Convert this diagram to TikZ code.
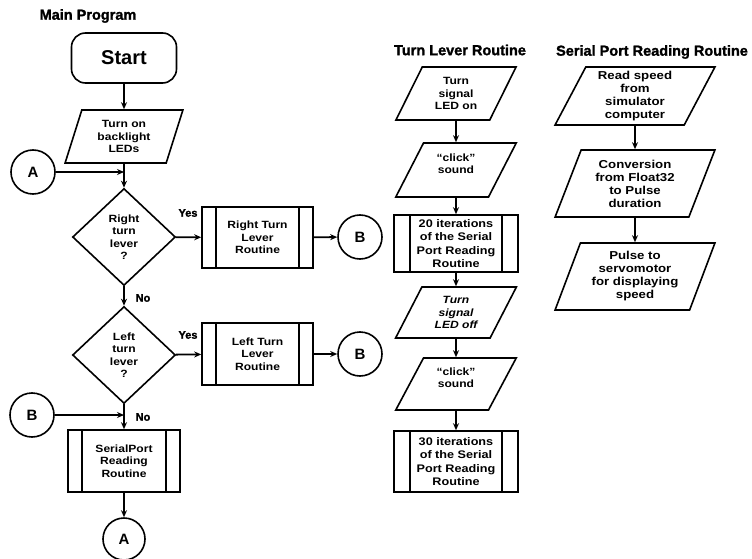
\documentclass[tikz,border=0pt]{standalone}
\usepackage{fontspec}
\setmainfont{Liberation Sans}
\newfontfamily\bodyfamily{Liberation Sans}[FakeStretch=1.15]
\newfontfamily\headfamily{Liberation Sans}[BoldFeatures={FakeBold=1.5}]
\usetikzlibrary{shapes.geometric,arrows.meta}

\newcommand\txtfont{\bodyfamily\bfseries\fontsize{10.5}{12.5}\selectfont}
\newcommand\bigtxtfont{\bodyfamily\bfseries\fontsize{11}{13.3}\selectfont}
\newcommand\sertxtfont{\bodyfamily\bfseries\fontsize{11.5}{13}\selectfont}
\newcommand\headfont{\headfamily\bfseries\fontsize{14.5}{15}\selectfont}

\tikzset{
    flow/.style={line width=1.8pt, -{Stealth[length=7pt,width=6pt]}},
    feed/.style={line width=1.2pt, -{Stealth[length=7pt,width=6pt]}},
    io/.style={trapezium, trapezium stretches=true, draw, line width=1.6pt,
        trapezium left angle=#1, trapezium right angle=180-#1,
        inner sep=0pt, align=center, font=\txtfont},
    decision/.style={diamond, draw, line width=1.6pt, minimum width=103pt,
        minimum height=97pt, inner sep=0pt, align=center, font=\txtfont},
    sub/.style={draw, line width=1.6pt, inner sep=0pt, align=center, font=\txtfont,
        path picture={
            \draw[line width=1.4pt] ([xshift=#1]path picture bounding box.north west)
                -- ([xshift=#1]path picture bounding box.south west);
            \draw[line width=1.4pt] ([xshift=-#1]path picture bounding box.north east)
                -- ([xshift=-#1]path picture bounding box.south east);
        }},
    conn/.style={circle, draw, line width=1.6pt, minimum size=44pt, inner sep=0pt,
        font=\bfseries\fontsize{15}{15}\selectfont},
    answer/.style={font=\headfamily\bfseries\fontsize{11}{11}\selectfont, inner sep=0pt}
}

\begin{document}
\begin{tikzpicture}[x=1pt,y=-1pt]
    \useasboundingbox (0,0) rectangle (752,559);

    % main program
    \node[font=\headfont] (mtitle) at (88,16) {Main Program};
    \node[draw, line width=1.6pt, rounded corners=14pt, minimum width=105pt,
        minimum height=50pt, font=\bfseries\fontsize{20}{20}\selectfont] (start) at (124,58) {Start};
    \node[io=72, minimum width=118pt, minimum height=53pt] (light) at (124,136.5) {Turn on\\backlight\\LEDs};
    \node[decision] (right) at (124,237) {Right\\turn\\lever\\?};
    \node[sub=14pt, minimum width=111pt, minimum height=61pt] (rtr) at (257.5,237.5) {Right Turn\\Lever\\Routine};
    \node[decision] (left) at (124,355) {Left\\turn\\lever\\?};
    \node[sub=14pt, minimum width=111pt, minimum height=62pt] (ltr) at (257.5,354) {Left Turn\\Lever\\Routine};
    \node[sub=14pt, minimum width=112pt, minimum height=62pt] (spr) at (124,461) {SerialPort\\Reading\\Routine};

    \node[conn] (a1) at (33,172) {A};
    \node[conn] (b1) at (360,237) {B};
    \node[conn] (b2) at (360,354) {B};
    \node[conn] (b3) at (32,415) {B};
    \node[conn, minimum size=42pt] (a2) at (124,539) {A};

    \coordinate (ja) at (124,172);
    \coordinate (jb) at (124,415);

    \node[answer] (yes1) at (188,213) {Yes};
    \node[answer] (no1) at (143,298) {No};
    \node[answer] (yes2) at (188,335) {Yes};
    \node[answer] (no2) at (143,417) {No};

    \foreach \a/\b in {start/light, light/right, right/left, left/spr, spr/a2,
        right/rtr, rtr/b1, left/ltr, ltr/b2} {
        \draw[flow] (\a) -- (\b);
    }
    \draw[feed] (a1) -- (ja);
    \draw[feed] (b3) -- (jb);

    % turn lever routine
    \node[font=\headfont] (ttitle) at (460,50) {Turn Lever Routine};
    \node[io=63, minimum width=121pt, minimum height=53pt] (t1) at (456,93.5) {Turn\\signal\\LED on};
    \node[io=63, minimum width=121pt, minimum height=54pt] (t2) at (456,170) {“click”\\sound\\\mbox{}};
    \node[sub=16pt, minimum width=124pt, minimum height=57pt, font=\bigtxtfont] (t3) at (456,243.5)
        {20 iterations\\of the Serial\\Port Reading\\Routine};
    \node[io=63, minimum width=121pt, minimum height=51pt, font=\txtfont\itshape] (t4) at (456,312.5) {Turn\\signal\\LED off};
    \node[io=63, minimum width=121pt, minimum height=52pt] (t5) at (456,384) {“click”\\sound\\\mbox{}};
    \node[sub=16pt, minimum width=124pt, minimum height=61pt, font=\bigtxtfont] (t6) at (456,461.5)
        {30 iterations\\of the Serial\\Port Reading\\Routine};
    \foreach \a/\b in {t1/t2, t2/t3, t3/t4, t4/t5, t5/t6} {
        \draw[flow] (\a) -- (\b);
    }

    % serial port reading routine
    \node[font=\headfont] (stitle) at (652,52) {Serial Port Reading Routine};
    \node[io=65, minimum width=160pt, minimum height=58pt, font=\sertxtfont] (s1) at (635,96) {Read speed\\from\\simulator\\computer};
    \node[io=68, minimum width=160pt, minimum height=67pt, font=\sertxtfont] (s2) at (635,183.5) {Conversion\\from Float32\\to Pulse\\duration};
    \node[io=68, minimum width=160pt, minimum height=67pt, font=\sertxtfont] (s3) at (635,276.5) {Pulse to\\servomotor\\for displaying\\speed};
    \foreach \a/\b in {s1/s2, s2/s3} {
        \draw[flow] (\a) -- (\b);
    }
\end{tikzpicture}
\end{document}
